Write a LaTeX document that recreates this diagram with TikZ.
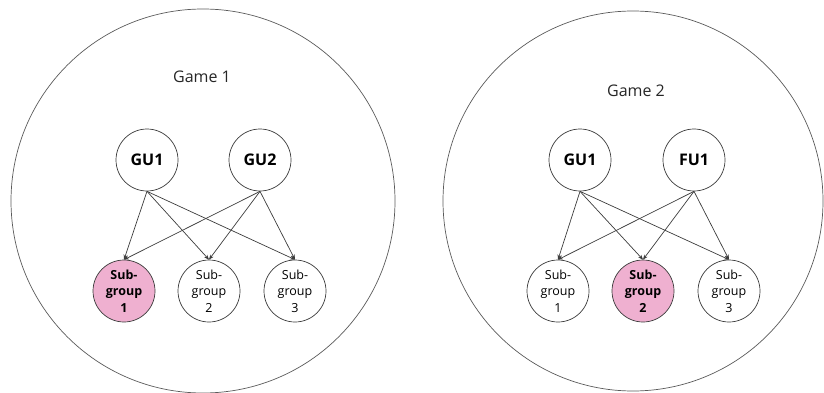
\documentclass[tikz,border=0pt]{standalone}
\usepackage{fontspec}
\setmainfont{Open Sans}
\usetikzlibrary{arrows.meta}
\definecolor{pinkfill}{RGB}{239,176,208}
\definecolor{linegray}{RGB}{60,60,60}
\definecolor{ringgray}{RGB}{90,90,90}
\tikzset{
  game/.style={circle, draw=ringgray, line width=0.7pt, minimum size=384pt, inner sep=0pt},
  unit/.style={circle, draw=linegray, line width=0.7pt, minimum size=62pt, inner sep=0pt, fill=white,
    font=\fontsize{16}{19}\selectfont\bfseries},
  sub/.style={circle, draw=linegray, line width=0.7pt, minimum size=62pt, inner sep=0pt, fill=white,
    align=center, font=\fontsize{12.5}{16.5}\selectfont},
  subhl/.style={sub, fill=pinkfill, font=\fontsize{12.5}{16.5}\selectfont\bfseries},
  title/.style={font=\fontsize{16}{19}\selectfont, text=black!85},
  conn/.style={draw=linegray, line width=0.7pt, -{Stealth[length=5pt,width=4pt]}}
}
\begin{document}
\begin{tikzpicture}[x=1pt,y=-1pt]
\useasboundingbox (0,0) rectangle (824,393);
% Game 1
\node[game] (g1) at (203,201) {};
\node[title] (t1) at (202,77) {Game 1};
\node[unit] (a1) at (147,160) {GU1};
\node[unit] (a2) at (260,160) {GU2};
\node[subhl] (s11) at (124,291) {Sub-\\group\\1};
\node[sub] (s12) at (209,291) {Sub-\\group\\2};
\node[sub] (s13) at (295,291) {Sub-\\group\\3};
\foreach \u in {a1,a2}{
  \foreach \s in {s11,s12,s13}{
    \draw[conn] (\u.south) -- (\s.north);
  }
}
% Game 2
\node[game, minimum size=380pt] (g2) at (633,201) {};
\node[title] (t2) at (636,91) {Game 2};
\node[unit] (b1) at (580,160) {GU1};
\node[unit] (b2) at (694,160) {FU1};
\node[sub] (s21) at (558,291) {Sub-\\group\\1};
\node[subhl] (s22) at (643,291) {Sub-\\group\\2};
\node[sub] (s23) at (729,291) {Sub-\\group\\3};
\foreach \u in {b1,b2}{
  \foreach \s in {s21,s22,s23}{
    \draw[conn] (\u.south) -- (\s.north);
  }
}
\end{tikzpicture}
\end{document}
